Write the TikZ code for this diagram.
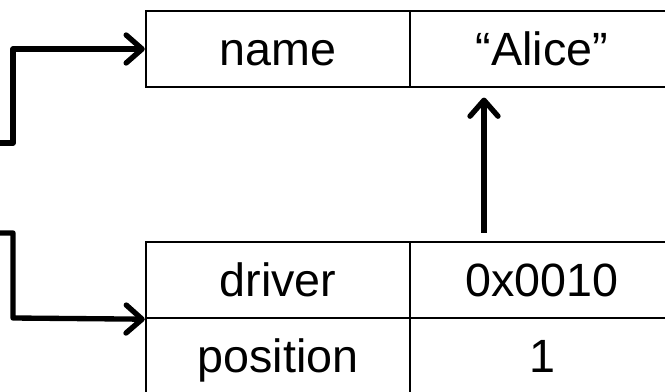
\documentclass[tikz,border=0pt]{standalone}
\usepackage{fontspec}
\setmainfont{Liberation Sans}
\usepackage{tikz}
\usetikzlibrary{arrows.meta}

\begin{document}
\begin{tikzpicture}[x=0.75pt,y=-0.75pt]
	\tikzstyle{cell}=[draw=black,line width=1.8pt,minimum width=198pt,minimum height=57pt,inner sep=0pt,text height=25pt,text depth=0pt,font=\fontsize{35}{42}\selectfont]
	\tikzstyle{ptr}=[line width=4pt,line join=round,-{Straight Barb[length=12pt,width=21pt,round]}]
	\path[use as bounding box,clip] (0,0) rectangle (665,392);
	% person record
	\node[cell](name) at (278,49) {name};
	\node[cell](alice) at (542,49) {``Alice''};
	% car record
	\node[cell](driver) at (278,280) {driver};
	\node[cell](addr) at (542,280) {0x0010};
	\node[cell](position) at (278,356) {position};
	\node[cell](one) at (542,356) {1};
	\coordinate (in1) at (-10,143);
	\coordinate (in2) at (-10,233);
	\draw[ptr] (in1) -| (13,49) -- (name.west);
	\draw[ptr] (in2) -| (13,318) -- (driver.south west);
	\draw[ptr,shorten <=6pt,shorten >=7pt] ([xshift=-43.5pt]addr.north) -- ([xshift=-43.5pt]alice.south);
\end{tikzpicture}
\end{document}
